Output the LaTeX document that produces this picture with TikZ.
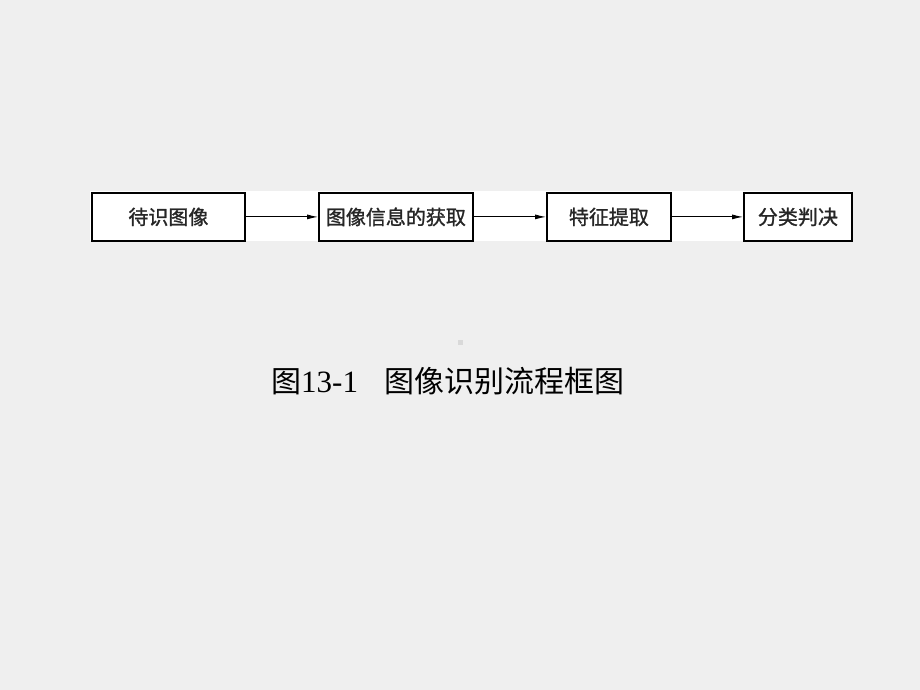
\documentclass[tikz,border=0pt]{standalone}
\usepackage{fontspec}
\newfontfamily\cjk{Noto Sans CJK SC}
\newfontfamily\cjkbox{Noto Sans CJK SC}[FakeBold=1.2]
\setmainfont{Liberation Serif}
\usetikzlibrary{arrows.meta}
\definecolor{bg}{HTML}{EFEFEF}
\tikzset{
  box/.style={draw=black, line width=1.8pt, fill=white, minimum height=48pt, inner sep=0pt, font=\cjkbox\fontsize{20}{20}\selectfont, text=black!85, anchor=north west},
  flow/.style={draw=black, line width=0.9pt, -{Latex[length=11pt,width=5pt]}}
}
\begin{document}
\begin{tikzpicture}[x=1pt,y=-1pt]
\fill[bg] (0,0) rectangle (920,690);
\useasboundingbox (0,0) rectangle (920,690);
\fill[white] (90,191) rectangle (852,241);
\node[box, minimum width=153pt] (a) at (91,192) {待识图像};
\node[box, minimum width=154pt] (b) at (318,192) {图像信息的获取};
\node[box, minimum width=124pt] (c) at (546,192) {特征提取};
\node[box, minimum width=108pt] (d) at (743,192) {分类判决};
\draw[flow] (a) -- (b);
\draw[flow] (b) -- (c);
\draw[flow] (c) -- (d);
\fill[gray!30] (457.5,339.5) rectangle (462.5,344.5);
\node[anchor=west, inner sep=0pt] (cap) at (271,381) {\cjk\fontsize{30}{30}\selectfont 图\rmfamily\fontsize{31}{31}\selectfont 13-1\hspace{26pt}\cjk\fontsize{30}{30}\selectfont 图像识别流程框图};
\end{tikzpicture}
\end{document}
